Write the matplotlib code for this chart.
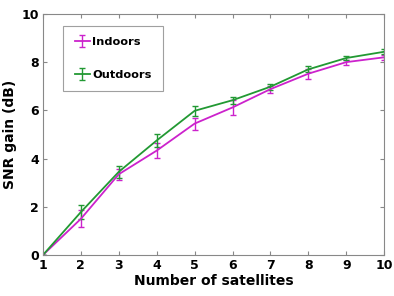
import matplotlib
matplotlib.use("Agg")
import matplotlib.pyplot as plt

sats = [1, 2, 3, 4, 5, 6, 7, 8, 9, 10]
indoors = [0.0, 1.5, 3.35, 4.33, 5.45, 6.12, 6.88, 7.52, 8.0, 8.2]
indoors_err = [0.0, 0.35, 0.22, 0.3, 0.25, 0.3, 0.15, 0.2, 0.1, 0.1]
outdoors = [0.0, 1.78, 3.45, 4.75, 5.98, 6.42, 6.98, 7.7, 8.17, 8.43]
outdoors_err = [0.0, 0.3, 0.25, 0.25, 0.22, 0.15, 0.12, 0.12, 0.1, 0.1]
xticks = [1, 2, 3, 4, 5, 6, 7, 8, 9, 10]
yticks = [0, 2, 4, 6, 8, 10]

plt.rcParams['font.family'] = ['DejaVu Sans']
plt.rcParams['font.weight'] = 'bold'

fig = plt.figure(figsize=(3.94, 2.96), dpi=100)
ax = fig.add_axes([0.109, 0.1385, 0.866, 0.8145])

mag = '#cc22cc'
grn = '#229933'
ax.errorbar(sats, indoors, yerr=indoors_err, color=mag, lw=1.3, capsize=2, elinewidth=1.0, label='Indoors')
ax.errorbar(sats, outdoors, yerr=outdoors_err, color=grn, lw=1.3, capsize=2, elinewidth=1.0, label='Outdoors')

ax.set_xlim(1, 10)
ax.set_ylim(0, 10)
ax.set_xticks(xticks)
ax.set_yticks(yticks)
ax.tick_params(direction='in', length=3, labelsize=9, color='#888888', top=True, right=True, pad=3)
for lab in ax.get_xticklabels() + ax.get_yticklabels():
    lab.set_fontweight('bold')
for s in ax.spines.values():
    s.set_color('#888888')
    s.set_linewidth(0.8)

ax.set_xlabel('Number of satellites', fontsize=10, fontweight='bold', labelpad=1)
ax.set_ylabel('SNR gain (dB)', fontsize=10, fontweight='bold', labelpad=3)

leg = ax.legend(loc='upper left', bbox_to_anchor=(0.05, 0.965), fontsize=8.2, frameon=True,
                fancybox=False, edgecolor='#888888', handlelength=1.3, handletextpad=0.2,
                borderpad=1.0, labelspacing=2.0, borderaxespad=0.3)
leg.get_frame().set_linewidth(0.8)
for t in leg.get_texts():
    t.set_fontweight('bold')

fig.savefig('out.png', dpi=100)
